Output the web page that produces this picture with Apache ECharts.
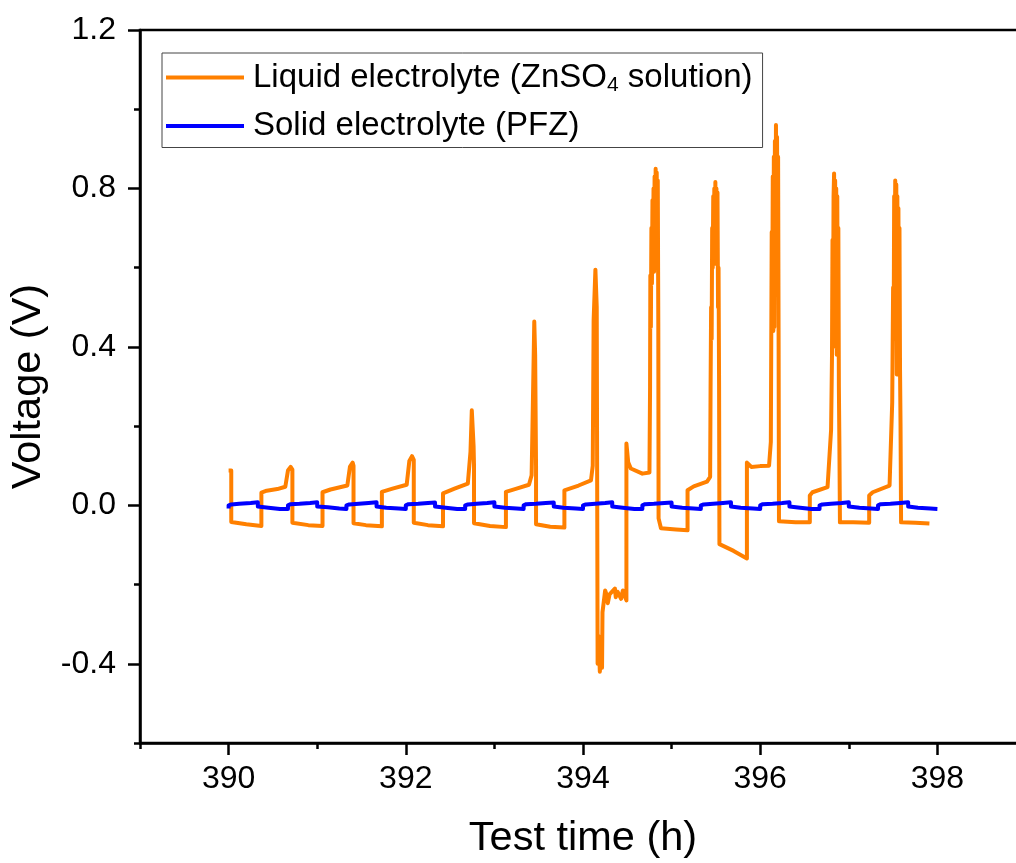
<!DOCTYPE html>
<html>
<head>
<meta charset="utf-8">
<script src="https://cdn.jsdelivr.net/npm/echarts@6/dist/echarts.min.js"></script>
<style>
html,body{margin:0;padding:0;background:#fff;}
#chart{width:1016px;height:863px;}
</style>
</head>
<body>
<div id="chart"></div>
<script>
// ---- Data ----
const seriesNames = ['Liquid electrolyte (ZnSO4 solution)', 'Solid electrolyte (PFZ)'];
const xMajorTicks = [390, 392, 394, 396, 398];
const yMajorTicks = [-0.4, 0, 0.4, 0.8, 1.2];

const liquidTime = [
  390.00, 390.03, 390.03, 390.20, 390.37, 390.37, 390.43, 390.55, 390.64, 390.67, 390.70, 390.72,
  390.72, 390.90, 391.06, 391.06, 391.15, 391.34, 391.37, 391.40, 391.41,
  391.41, 391.55, 391.73, 391.73, 391.85, 392.01, 392.04, 392.07, 392.09,
  392.09, 392.25, 392.42, 392.42, 392.55, 392.70, 392.73, 392.745, 392.755, 392.765, 392.77,
  392.77, 392.95, 393.13, 393.13, 393.25, 393.39, 393.42, 393.43, 393.45, 393.46, 393.47,
  393.47, 393.63, 393.79, 393.79, 393.95, 394.09, 394.11, 394.12, 394.14, 394.155, 394.16,
  394.165, 394.175, 394.19, 394.205, 394.215, 394.22, 394.25, 394.265, 394.28, 394.30, 394.32,
  394.36, 394.37, 394.39, 394.41, 394.43, 394.45, 394.47, 394.49,
  394.49, 394.51, 394.54, 394.67, 394.75, 394.757, 394.760, 394.766, 394.772, 394.778, 394.784, 394.790, 394.796, 394.802, 394.808, 394.814, 394.820, 394.826, 394.832, 394.838, 394.844, 394.850,
  394.853, 394.88, 395.05, 395.18,
  395.18, 395.25, 395.40, 395.435, 395.440, 395.446, 395.452, 395.458, 395.464, 395.470, 395.476, 395.482, 395.488, 395.494, 395.500, 395.506, 395.512, 395.518, 395.524, 395.530, 395.536,
  395.54, 395.70, 395.85,
  395.85, 395.90, 396.00, 396.10, 396.12, 396.130, 396.136, 396.142, 396.148, 396.154, 396.160, 396.166, 396.172, 396.178, 396.184, 396.190, 396.196, 396.202, 396.208,
  396.212, 396.40, 396.56,
  396.56, 396.59, 396.76, 396.80, 396.810, 396.816, 396.822, 396.828, 396.834, 396.840, 396.846, 396.852, 396.858, 396.864, 396.870, 396.876, 396.882, 396.888, 396.894,
  396.90, 397.05, 397.23,
  397.23, 397.27, 397.46, 397.49, 397.500, 397.506, 397.512, 397.518, 397.524, 397.530, 397.536, 397.542, 397.548, 397.554, 397.560, 397.566, 397.572, 397.578, 397.584,
  397.59, 397.75, 397.91
];
const liquidVoltage = [
  0.088, 0.088, -0.042, -0.048, -0.052, 0.032, 0.037, 0.041, 0.047, 0.088, 0.097, 0.090,
  -0.044, -0.050, -0.052, 0.033, 0.040, 0.050, 0.098, 0.108, 0.100,
  -0.045, -0.050, -0.053, 0.034, 0.042, 0.052, 0.112, 0.124, 0.115,
  -0.044, -0.050, -0.053, 0.030, 0.042, 0.055, 0.135, 0.240, 0.235, 0.150, 0.100,
  -0.045, -0.052, -0.055, 0.034, 0.042, 0.052, 0.076, 0.200, 0.464, 0.380, 0.100,
  -0.048, -0.054, -0.056, 0.038, 0.050, 0.063, 0.100, 0.467, 0.595, 0.500, 0.050,
  -0.400, -0.330, -0.420, -0.360, -0.410, -0.270, -0.215, -0.225, -0.247, -0.225, -0.230,
  -0.210, -0.232, -0.218, -0.222, -0.236, -0.215, -0.228, -0.240,
  0.156, 0.109, 0.093, 0.080, 0.083, 0.300, 0.580, 0.450, 0.700, 0.560, 0.770, 0.600, 0.800, 0.590, 0.830, 0.620, 0.850, 0.640, 0.840, 0.600, 0.820, 0.450,
  -0.033, -0.058, -0.061, -0.063,
  0.038, 0.048, 0.060, 0.072, 0.300, 0.500, 0.420, 0.700, 0.600, 0.780, 0.610, 0.800, 0.620, 0.816, 0.610, 0.800, 0.640, 0.790, 0.500, 0.600, 0.300,
  -0.098, -0.115, -0.134,
  0.108, 0.097, 0.099, 0.100, 0.160, 0.690, 0.500, 0.830, 0.440, 0.880, 0.450, 0.920, 0.600, 0.960, 0.700, 0.930, 0.650, 0.880, 0.400,
  -0.040, -0.043, -0.043,
  0.025, 0.033, 0.046, 0.190, 0.370, 0.670, 0.450, 0.780, 0.838, 0.500, 0.820, 0.400, 0.800, 0.380, 0.780, 0.400, 0.700, 0.300, 0.150,
  -0.043, -0.043, -0.044,
  0.025, 0.033, 0.050, 0.260, 0.550, 0.420, 0.780, 0.600, 0.820, 0.760, 0.810, 0.330, 0.780, 0.350, 0.750, 0.400, 0.700, 0.350, 0.200,
  -0.043, -0.044, -0.046
];

const solidTime = [
  390.00, 390.00, 390.03, 390.12, 390.25, 390.33, 390.33, 390.45, 390.58,
  390.67, 390.67, 390.70, 390.80, 390.92, 391.00, 391.00, 391.12, 391.25,
  391.33, 391.33, 391.36, 391.47, 391.58, 391.67, 391.67, 391.78, 391.92,
  392.00, 392.00, 392.03, 392.14, 392.25, 392.33, 392.33, 392.45, 392.58,
  392.67, 392.67, 392.70, 392.80, 392.92, 393.00, 393.00, 393.12, 393.25,
  393.33, 393.33, 393.36, 393.47, 393.58, 393.67, 393.67, 393.78, 393.92,
  394.00, 394.00, 394.03, 394.14, 394.25, 394.33, 394.33, 394.45, 394.58,
  394.67, 394.67, 394.70, 394.80, 394.92, 395.00, 395.00, 395.12, 395.25,
  395.33, 395.33, 395.36, 395.47, 395.58, 395.67, 395.67, 395.78, 395.92,
  396.00, 396.00, 396.03, 396.14, 396.25, 396.33, 396.33, 396.45, 396.58,
  396.67, 396.67, 396.70, 396.80, 396.92, 397.00, 397.00, 397.12, 397.25,
  397.33, 397.33, 397.36, 397.47, 397.58, 397.67, 397.67, 397.78, 397.92,
  398.00
];
const solidVoltage = [
  -0.008, 0.000, 0.002, 0.004, 0.006, 0.008, -0.003, -0.006, -0.009,
  -0.009, 0.000, 0.003, 0.004, 0.006, 0.008, -0.003, -0.005, -0.008,
  -0.009, 0.000, 0.002, 0.004, 0.006, 0.008, -0.003, -0.006, -0.008,
  -0.009, 0.000, 0.003, 0.004, 0.006, 0.007, -0.003, -0.006, -0.009,
  -0.009, 0.000, 0.002, 0.004, 0.006, 0.008, -0.003, -0.006, -0.008,
  -0.009, 0.000, 0.003, 0.004, 0.006, 0.007, -0.003, -0.006, -0.008,
  -0.009, 0.000, 0.002, 0.004, 0.006, 0.008, -0.003, -0.006, -0.009,
  -0.009, 0.000, 0.003, 0.004, 0.006, 0.007, -0.003, -0.006, -0.008,
  -0.009, 0.000, 0.002, 0.004, 0.006, 0.008, -0.003, -0.006, -0.008,
  -0.009, 0.000, 0.003, 0.004, 0.006, 0.008, -0.003, -0.006, -0.009,
  -0.009, 0.000, 0.002, 0.004, 0.006, 0.008, -0.003, -0.006, -0.008,
  -0.009, 0.000, 0.003, 0.004, 0.006, 0.008, -0.003, -0.006, -0.008,
  -0.009
];

// ---- Chart ----
const FONT = 'Arial, "Liberation Sans", sans-serif';
const liquidData = liquidTime.map((t, i) => [t, liquidVoltage[i]]);
const solidData = solidTime.map((t, i) => [t, solidVoltage[i]]);

const X_MIN = 389, X_MAX = 399, Y_MIN = -0.6, Y_MAX = 1.2;
const G_LEFT = 140, G_TOP = 30, G_W = 886, G_H = 713;
const pxPerX = G_W / (X_MAX - X_MIN);
const pxPerY = G_H / (Y_MAX - Y_MIN);
const xMajMin = xMajorTicks[0], xMajMax = xMajorTicks[xMajorTicks.length - 1];
const yMajMin = yMajorTicks[0], yMajMax = yMajorTicks[yMajorTicks.length - 1];

const chart = echarts.init(document.getElementById('chart'), null, {renderer: 'canvas'});
const axisLineStyle = {color: '#000', width: 2.5};
const tickStyle = {color: '#000', width: 2.5};

function isMajorX(v) { return xMajorTicks.some(t => Math.abs(t - v) < 1e-6); }
function isMajorY(v) { return yMajorTicks.some(t => Math.abs(t - v) < 1e-6); }

chart.setOption({
  animation: false,
  backgroundColor: '#fff',
  textStyle: {fontFamily: FONT},
  grid: [
    // main plotting grid
    {left: G_LEFT, top: G_TOP, width: G_W, height: G_H, outerBoundsMode: 'none', containLabel: false,
     show: true, borderColor: '#000', borderWidth: 2.5, backgroundColor: 'transparent'},
    // grid carrying long x major ticks (spans first..last major tick)
    {left: G_LEFT + (xMajMin - X_MIN) * pxPerX, top: G_TOP, width: (xMajMax - xMajMin) * pxPerX, height: G_H,
     outerBoundsMode: 'none', containLabel: false, show: false},
    // grid carrying long y major ticks
    {left: G_LEFT, top: G_TOP + (Y_MAX - yMajMax) * pxPerY, width: G_W, height: (yMajMax - yMajMin) * pxPerY,
     outerBoundsMode: 'none', containLabel: false, show: false}
  ],
  legend: {
    orient: 'vertical', left: 162, top: 53,
    padding: [8, 10, 5, 4], itemGap: 14,
    itemWidth: 78, itemHeight: 4, icon: 'rect',
    borderColor: '#444', borderWidth: 1,
    data: seriesNames,
    formatter: function (name) {
      if (name === seriesNames[0]) return '{n|Liquid electrolyte (ZnSO}{s|4}{n| solution)}';
      return '{n|' + name + '}';
    },
    textStyle: {
      fontFamily: FONT, fontSize: 33, color: '#000', padding: [0, 0, 0, 4],
      rich: {
        n: {fontFamily: FONT, fontSize: 33, color: '#000'},
        s: {fontFamily: FONT, fontSize: 21, color: '#000', padding: [15, 0, 0, 0]}
      }
    }
  },
  xAxis: [{
    type: 'value', min: X_MIN, max: X_MAX, interval: 1, position: 'bottom', gridIndex: 0,
    axisLine: {show: true, onZero: false, lineStyle: axisLineStyle},
    axisTick: {show: true, inside: false, length: 6, lineStyle: tickStyle},
    axisLabel: {interval: 0, formatter: v => (isMajorX(v) ? String(Math.round(v)) : ''), fontFamily: FONT, fontSize: 32, color: '#000', margin: 20},
    splitLine: {show: false},
    name: 'Test time (h)', nameLocation: 'middle', nameGap: 75,
    nameTextStyle: {fontFamily: FONT, fontSize: 41.5, color: '#000'}
  }, {
    type: 'value', min: xMajMin, max: xMajMax, interval: 2, position: 'bottom', gridIndex: 1,
    axisLine: {show: false, onZero: false},
    axisTick: {show: true, inside: false, length: 12, lineStyle: tickStyle},
    axisLabel: {show: false},
    splitLine: {show: false}
  }, {
    type: 'value', min: X_MIN, max: X_MAX, gridIndex: 2, show: false
  }],
  yAxis: [{
    type: 'value', min: Y_MIN, max: Y_MAX, interval: 0.2, position: 'left', gridIndex: 0,
    axisLine: {show: true, onZero: false, lineStyle: axisLineStyle},
    axisTick: {show: true, inside: false, length: 6, lineStyle: tickStyle},
    axisLabel: {interval: 0, formatter: v => (isMajorY(v) ? v.toFixed(1) : ''), fontFamily: FONT, fontSize: 32, color: '#000', margin: 24},
    splitLine: {show: false},
    name: 'Voltage (V)', nameLocation: 'middle', nameGap: 82,
    nameTextStyle: {fontFamily: FONT, fontSize: 41.5, color: '#000'}
  }, {
    type: 'value', min: Y_MIN, max: Y_MAX, gridIndex: 1, show: false
  }, {
    type: 'value', min: yMajMin, max: yMajMax, interval: 0.4, position: 'left', gridIndex: 2,
    axisLine: {show: false, onZero: false},
    axisTick: {show: true, inside: false, length: 12, lineStyle: tickStyle},
    axisLabel: {show: false},
    splitLine: {show: false}
  }],
  series: [{
    name: seriesNames[0], type: 'line', data: liquidData,
    xAxisIndex: 0, yAxisIndex: 0,
    symbol: 'none', showSymbol: false, smooth: false, sampling: null,
    color: '#FF8000',
    lineStyle: {color: '#FF8000', width: 4, join: 'round'},
    z: 2
  }, {
    name: seriesNames[1], type: 'line', data: solidData,
    xAxisIndex: 0, yAxisIndex: 0,
    symbol: 'none', showSymbol: false, smooth: false,
    color: '#0000FF',
    lineStyle: {color: '#0000FF', width: 4, join: 'round'},
    z: 3
  }, {
    name: 'xTickHelper', type: 'line', data: [], xAxisIndex: 1, yAxisIndex: 1, silent: true, symbol: 'none'
  }, {
    name: 'yTickHelper', type: 'line', data: [], xAxisIndex: 2, yAxisIndex: 2, silent: true, symbol: 'none'
  }]
});
</script>
</body>
</html>
